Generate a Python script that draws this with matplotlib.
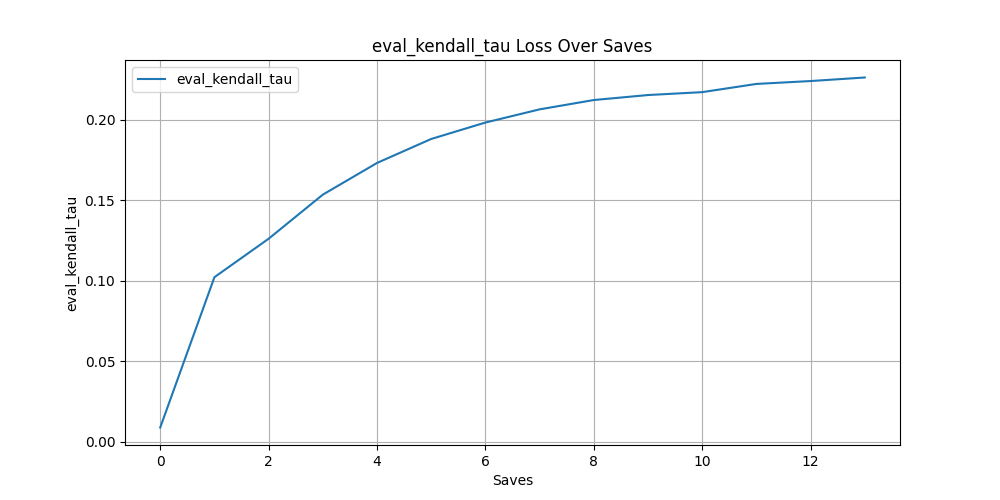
import matplotlib
matplotlib.use('Agg')
import matplotlib.pyplot as plt

# valores
saves = list(range(14))
eval_kendall_tau = [0.0087, 0.1021, 0.1260, 0.1534, 0.1731, 0.1880, 0.1982,
                    0.2064, 0.2122, 0.2153, 0.2171, 0.2222, 0.2240, 0.2262]

plt.figure(figsize=(10, 5), dpi=100)
plt.plot(saves, eval_kendall_tau, label="eval_kendall_tau")
plt.title("eval_kendall_tau Loss Over Saves")
plt.xlabel("Saves")
plt.ylabel("eval_kendall_tau")
plt.legend(loc='upper left')
plt.grid()
plt.savefig("out.png")
